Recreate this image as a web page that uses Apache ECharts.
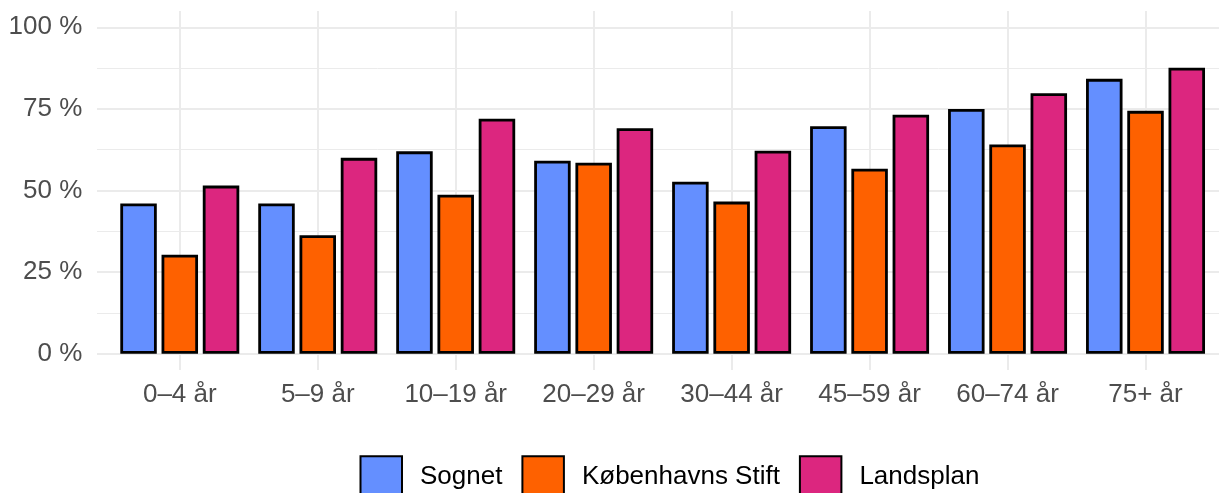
<!DOCTYPE html>
<html>
<head>
<meta charset="utf-8">
<script src="https://cdn.jsdelivr.net/npm/echarts@6/dist/echarts.min.js"></script>
<style>
html,body{margin:0;padding:0;background:#fff;}
#chart{width:1219px;height:493px;}
</style>
</head>
<body>
<div id="chart"></div>
<script>
const categories = ["0–4 år", "5–9 år", "10–19 år", "20–29 år", "30–44 år", "45–59 år", "60–74 år", "75+ år"];
const seriesNames = ["Sognet", "Københavns Stift", "Landsplan"];
const sognet = [46.0, 46.0, 62.0, 59.1, 52.7, 69.7, 75.0, 84.2];
const kbhStift = [30.3, 36.3, 48.7, 58.5, 46.6, 56.7, 64.1, 74.4];
const landsplan = [51.5, 60.0, 72.0, 69.1, 62.2, 73.2, 79.8, 87.6];
const yTicks = [0, 25, 50, 75, 100];

const colors = ["#648FFF", "#FE6100", "#DC267F"];
const font = "'Liberation Sans', Arial, Helvetica, sans-serif";
const gridColor = "#ebebeb";

const chart = echarts.init(document.getElementById('chart'), null, {renderer: 'canvas'});

function barSeries(name, data, color) {
  return {
    name: name,
    type: 'bar',
    xAxisIndex: 2,
    yAxisIndex: 2,
    data: data,
    barWidth: 36.5,
    barGap: '13%',
    itemStyle: {color: color, borderColor: '#000', borderWidth: 2.8},
    emphasis: {disabled: true}
  };
}

chart.setOption({
  animation: false,
  backgroundColor: '#fff',
  textStyle: {fontFamily: font},
  grid: [
    {left: 97, right: 0, top: 27.3, bottom: 139.3},
    {left: 179.8, right: 73.5, top: 11, bottom: 123},
    {left: 110.8, right: 4.5, top: 27.3, bottom: 139.3}
  ],
  xAxis: [
    {gridIndex: 0, type: 'category', data: categories, show: false},
    {gridIndex: 1, type: 'category', data: categories, boundaryGap: false,
     axisLine: {show: false}, axisTick: {show: false}, axisLabel: {show: false},
     splitLine: {show: true, lineStyle: {color: gridColor, width: 2}}},
    {gridIndex: 2, type: 'category', data: categories,
     axisLine: {show: false}, axisTick: {show: false}, splitLine: {show: false},
     axisLabel: {color: '#4d4d4d', fontSize: 26, fontFamily: font, margin: 28, interval: 0}}
  ],
  yAxis: [
    {gridIndex: 0, type: 'value', min: 0, max: 100, interval: 25,
     axisLine: {show: false}, axisTick: {show: false}, axisLabel: {show: false},
     splitLine: {show: true, lineStyle: {color: gridColor, width: 2}},
     minorTick: {show: false, splitNumber: 2},
     minorSplitLine: {show: true, lineStyle: {color: gridColor, width: 1}}},
    {gridIndex: 1, type: 'value', show: false, splitLine: {show: false}},
    {gridIndex: 2, type: 'value', min: yTicks[0], max: yTicks[yTicks.length - 1], interval: 25,
     axisLine: {show: false}, axisTick: {show: false}, splitLine: {show: false},
     axisLabel: {color: '#4d4d4d', fontSize: 26, fontFamily: font, margin: 28.5,
       formatter: function (v) { return v + ' %'; }}}
  ],
  legend: {
    data: seriesNames,
    left: 359.5,
    top: 455.2,
    padding: 0,
    itemWidth: 41.5,
    itemHeight: 41.5,
    itemGap: 19,
    icon: 'rect',
    selectedMode: false,
    textStyle: {color: '#000', fontSize: 26, fontFamily: font, padding: [0, 0, 0, 13]}
  },
  series: [
    barSeries(seriesNames[0], sognet, colors[0]),
    barSeries(seriesNames[1], kbhStift, colors[1]),
    barSeries(seriesNames[2], landsplan, colors[2])
  ]
});
</script>
</body>
</html>
